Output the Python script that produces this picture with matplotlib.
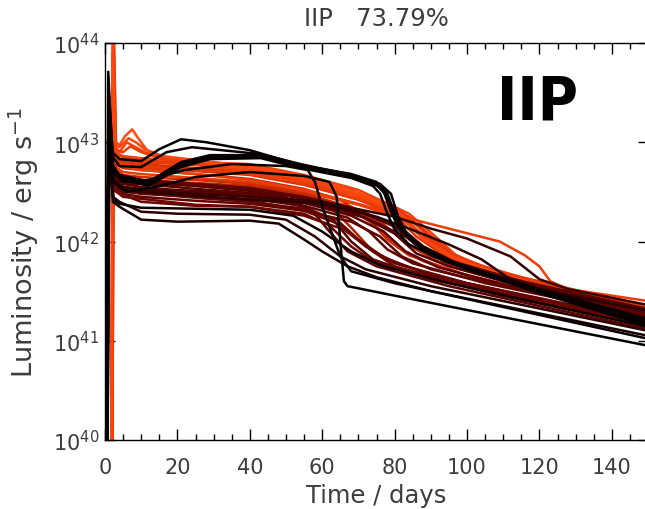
import matplotlib
matplotlib.use("Agg")
import matplotlib.pyplot as plt
from matplotlib.colors import LinearSegmentedColormap
from matplotlib.ticker import MultipleLocator, LogLocator, NullLocator

# Type IIP model light curves: (day, log10 L [erg/s]) key points
ORANGE_BUMP = [
    [(1.8, 39.3), (2.2, 44.3), (2.9, 43.0), (4, 42.97), (5.5, 43.06), (7.5, 43.13), (9, 43.05), (12, 42.9),
     (17, 42.84), (25, 42.81), (40, 42.76), (55, 42.65), (70, 42.49), (80, 42.33), (86, 42.12), (92, 41.92),
     (100, 41.77), (120, 41.56), (150, 41.32)],
    [(1.9, 39.3), (2.3, 44.3), (3.0, 42.95), (4, 42.9), (6, 43.0), (8, 42.96), (12, 42.88), (20, 42.82),
     (40, 42.73), (55, 42.62), (70, 42.46), (82, 42.27), (88, 42.05), (94, 41.88), (105, 41.7), (150, 41.29)],
    [(2.0, 39.3), (2.4, 44.2), (3.1, 42.92), (5, 42.9), (7, 42.96), (10, 42.9), (15, 42.84), (25, 42.78),
     (40, 42.7), (55, 42.59), (70, 42.43), (80, 42.29), (87, 42.08), (95, 41.86), (110, 41.63), (150, 41.27)],
    [(1.7, 39.3), (2.1, 44.1), (2.8, 43.0), (4, 42.95), (6.5, 43.04), (8.5, 43.0), (11, 42.93), (16, 42.86),
     (30, 42.8), (45, 42.73), (60, 42.6), (72, 42.44), (81, 42.28), (88, 42.02), (96, 41.84), (115, 41.6),
     (150, 41.3)],
]
ORANGE_BUMP_SHADE = [1.0, 0.95, 0.9, 0.97]

ORANGE_BAND = [
    [(1.7, 39.3), (2.2, 43.8), (2.9, 42.88), (5, 42.85), (10, 42.82), (25, 42.78), (40, 42.74), (55, 42.64),
     (68, 42.52), (80, 42.34), (88, 42.12), (95, 41.9), (105, 41.72), (150, 41.3)],
    [(1.8, 39.3), (2.3, 43.9), (3.0, 42.84), (5, 42.8), (10, 42.78), (25, 42.74), (40, 42.7), (55, 42.6),
     (68, 42.48), (78, 42.34), (85, 42.14), (92, 41.9), (100, 41.75), (150, 41.28)],
    [(1.9, 39.3), (2.3, 43.7), (3.0, 42.78), (5, 42.74), (10, 42.72), (25, 42.68), (40, 42.63), (55, 42.53),
     (65, 42.42), (72, 42.25), (78, 42.02), (84, 41.86), (100, 41.66), (150, 41.24)],
    [(1.8, 39.3), (2.2, 43.6), (2.9, 42.75), (5, 42.7), (10, 42.68), (25, 42.64), (40, 42.6), (55, 42.5),
     (70, 42.37), (83, 42.22), (90, 41.99), (97, 41.8), (110, 41.62), (150, 41.26)],
    [(2.0, 39.3), (2.4, 43.5), (3.1, 42.7), (5, 42.64), (10, 42.62), (25, 42.59), (40, 42.56), (55, 42.46),
     (62, 42.36), (68, 42.14), (74, 41.9), (82, 41.76), (100, 41.58), (150, 41.2)],
    [(1.7, 39.3), (2.1, 43.9), (2.8, 42.9), (5, 42.86), (10, 42.84), (25, 42.8), (40, 42.78), (55, 42.67),
     (70, 42.52), (84, 42.28), (91, 42.06), (97, 41.86), (108, 41.7), (150, 41.34)],
    [(1.9, 39.3), (2.3, 43.6), (3.0, 42.72), (5, 42.67), (10, 42.65), (25, 42.62), (40, 42.58), (55, 42.49),
     (66, 42.36), (74, 42.18), (81, 41.94), (88, 41.8), (105, 41.6), (150, 41.22)],
    [(1.8, 39.3), (2.2, 43.7), (2.9, 42.8), (5, 42.76), (10, 42.74), (25, 42.71), (40, 42.67), (55, 42.57),
     (70, 42.42), (80, 42.27), (86, 42.05), (92, 41.9), (102, 41.74), (150, 41.32)],
    [(1.9, 39.3), (2.3, 43.8), (3.0, 42.86), (5, 42.82), (10, 42.8), (25, 42.77), (40, 42.72), (55, 42.62),
     (70, 42.48), (82, 42.3), (89, 42.07), (96, 41.86), (108, 41.68), (150, 41.3)],
    [(1.8, 39.3), (2.2, 43.5), (2.9, 42.68), (5, 42.62), (10, 42.6), (25, 42.57), (40, 42.56), (55, 42.47),
     (68, 42.35), (77, 42.17), (84, 41.96), (92, 41.8), (110, 41.6), (150, 41.24)],
    [(2.0, 39.3), (2.4, 43.6), (3.1, 42.82), (5, 42.78), (10, 42.76), (25, 42.72), (40, 42.69), (55, 42.6),
     (72, 42.44), (84, 42.25), (90, 42.02), (98, 41.82), (115, 41.64), (150, 41.33)],
]
ORANGE_BAND_SHADE = [0.85, 0.8, 0.75, 0.88, 0.72, 0.92, 0.78, 0.83, 0.9, 0.74, 0.86]

ORANGE_LATE = [(1.8, 39.3), (2.3, 43.6), (3.0, 42.8), (6, 42.75), (10, 42.72), (25, 42.68), (40, 42.62),
               (55, 42.52), (70, 42.38), (81, 42.26), (95, 42.13), (109, 42.0), (116, 41.86), (120, 41.75),
               (123, 41.6), (128, 41.52), (150, 41.4)]
ORANGE_LATE_SHADE = 0.9

DARK_BAND = [
    [(0.5, 39.3), (1.1, 43.3), (2.3, 42.72), (5, 42.63), (10, 42.61), (25, 42.56), (40, 42.51), (50, 42.44),
     (57, 42.32), (62, 42.1), (67, 41.9), (75, 41.75), (95, 41.55), (120, 41.35), (150, 41.12)],
    [(0.3, 39.3), (1.0, 43.2), (2.2, 42.67), (5, 42.58), (10, 42.55), (25, 42.5), (40, 42.46), (55, 42.35),
     (63, 42.22), (68, 42.0), (74, 41.82), (85, 41.68), (110, 41.45), (150, 41.15)],
    [(0.6, 39.3), (1.2, 43.1), (2.4, 42.62), (5, 42.53), (10, 42.51), (25, 42.46), (40, 42.41), (55, 42.31),
     (65, 42.17), (72, 41.95), (80, 41.78), (100, 41.58), (150, 41.2)],
    [(0.4, 39.3), (1.0, 43.4), (2.2, 42.62), (5, 42.51), (10, 42.48), (25, 42.45), (40, 42.43), (55, 42.36),
     (67, 42.24), (73, 42.1), (78, 41.92), (85, 41.78), (105, 41.58), (150, 41.24)],
    [(0.5, 39.3), (1.1, 43.0), (2.3, 42.57), (5, 42.48), (10, 42.45), (25, 42.41), (40, 42.38), (55, 42.31),
     (68, 42.2), (76, 42.05), (82, 41.85), (90, 41.72), (110, 41.55), (150, 41.25)],
    [(0.3, 39.3), (0.9, 43.2), (2.1, 42.62), (5, 42.55), (10, 42.53), (25, 42.51), (40, 42.48), (55, 42.41),
     (70, 42.27), (80, 42.08), (86, 41.88), (95, 41.75), (115, 41.55), (150, 41.28)],
    [(0.6, 39.3), (1.2, 43.0), (2.4, 42.52), (5, 42.45), (10, 42.43), (25, 42.37), (40, 42.35), (55, 42.26),
     (66, 42.12), (74, 41.9), (80, 41.75), (95, 41.6), (150, 41.18)],
    [(0.4, 39.3), (1.0, 43.3), (2.2, 42.72), (5, 42.64), (10, 42.62), (25, 42.58), (40, 42.54), (55, 42.45),
     (70, 42.32), (82, 42.13), (88, 41.95), (96, 41.8), (115, 41.6), (150, 41.3)],
    [(0.5, 39.3), (1.1, 43.1), (2.3, 42.64), (5, 42.58), (10, 42.58), (25, 42.53), (40, 42.49), (55, 42.39),
     (72, 42.24), (84, 42.03), (90, 41.86), (100, 41.72), (150, 41.32)],
    [(0.4, 39.3), (1.0, 43.0), (2.2, 42.57), (5, 42.5), (10, 42.49), (25, 42.44), (40, 42.4), (55, 42.33),
     (64, 42.22), (70, 42.02), (77, 41.84), (90, 41.66), (120, 41.42), (150, 41.17)],
    [(0.5, 39.3), (1.1, 43.2), (2.3, 42.6), (5, 42.53), (10, 42.5), (25, 42.48), (40, 42.46), (55, 42.39),
     (68, 42.26), (77, 42.1), (83, 41.9), (92, 41.74), (115, 41.52), (150, 41.26)],
    [(0.3, 39.3), (0.9, 43.1), (2.1, 42.54), (5, 42.47), (10, 42.4), (25, 42.36), (40, 42.35), (55, 42.28),
     (62, 42.16), (68, 41.95), (74, 41.8), (90, 41.62), (150, 41.16)],
    [(0.6, 39.3), (1.2, 43.3), (2.4, 42.66), (5, 42.6), (10, 42.59), (25, 42.56), (40, 42.52), (55, 42.43),
     (71, 42.29), (80, 42.15), (86, 41.96), (94, 41.8), (115, 41.58), (150, 41.28)],
    [(0.3, 39.3), (1.0, 43.2), (2.2, 42.6), (5, 42.52), (10, 42.5), (25, 42.46), (40, 42.42), (60, 42.38),
     (75, 42.25), (84, 42.13), (95, 41.97), (104, 41.82), (112, 41.62), (120, 41.52), (150, 41.3)],
    [(0.4, 39.3), (1.1, 43.1), (2.3, 42.62), (5, 42.55), (10, 42.52), (25, 42.48), (40, 42.45), (60, 42.4),
     (80, 42.25), (90, 42.13), (100, 42.03), (112, 41.85), (120, 41.62), (128, 41.52), (150, 41.36)],
]
DARK_BAND_SHADE = [0.45, 0.43, 0.48, 0.45, 0.47, 0.42, 0.5, 0.46, 0.44, 0.48, 0.45, 0.5, 0.43, 0.22, 0.28]

LOW_PLATEAU = [
    [(0.4, 39.3), (1.0, 43.0), (2.2, 42.4), (4, 42.35), (10, 42.22), (20, 42.2), (40, 42.21), (48, 42.18),
     (55, 42.02), (60, 41.9), (67, 41.75), (75, 41.64), (90, 41.5), (110, 41.35), (150, 41.05)],
    [(0.4, 39.3), (1.0, 43.0), (2.2, 42.45), (4, 42.4), (10, 42.3), (20, 42.28), (40, 42.27), (50, 42.22),
     (58, 42.05), (65, 41.85), (72, 41.72), (90, 41.55), (150, 41.1)],
    [(0.5, 39.3), (1.1, 42.9), (2.3, 42.42), (4, 42.38), (10, 42.34), (25, 42.33), (40, 42.32), (52, 42.26),
     (60, 42.1), (68, 41.9), (76, 41.76), (95, 41.58), (150, 41.14)],
]
LOW_PLATEAU_SHADE = [0.12, 0.2, 0.08]

BLACK_HIGH = [
    [(0.2, 39.3), (0.9, 43.71), (2.0, 42.9), (4, 42.83), (10, 42.81), (15, 42.93), (21, 43.03), (28, 43.0),
     (40, 42.92), (54, 42.77), (68, 42.68), (75, 42.6), (78, 42.48), (80, 42.28), (83, 42.08), (88, 41.92),
     (100, 41.72), (120, 41.5), (150, 41.2)],
    [(0.4, 39.3), (1.1, 43.47), (2.2, 42.85), (4, 42.76), (10, 42.75), (17, 42.9), (24, 42.95), (35, 42.91),
     (43, 42.88), (54, 42.78), (68, 42.67), (75, 42.58), (78, 42.45), (81, 42.22), (84, 42.05), (90, 41.88),
     (100, 41.74), (120, 41.52), (150, 41.22)],
    [(0.3, 39.3), (1.0, 43.3), (2.2, 42.75), (4, 42.66), (8, 42.63), (12, 42.58), (21, 42.78), (29, 42.86),
     (43, 42.86), (54, 42.76), (68, 42.66), (75, 42.57), (77, 42.5), (79, 42.3), (81, 42.15), (85, 42.0),
     (95, 41.8), (120, 41.5), (150, 41.18)],
    [(0.3, 39.3), (1.0, 43.2), (2.2, 42.73), (4, 42.64), (8, 42.61), (12, 42.57), (21, 42.76), (29, 42.84),
     (43, 42.85), (54, 42.75), (68, 42.65), (76, 42.55), (78, 42.47), (80, 42.27), (82, 42.12), (86, 41.98),
     (96, 41.8), (120, 41.49), (150, 41.16)],
    [(0.3, 39.3), (1.0, 43.25), (2.2, 42.76), (4, 42.67), (8, 42.64), (12, 42.6), (21, 42.8), (29, 42.87),
     (43, 42.87), (54, 42.77), (68, 42.67), (76, 42.58), (79, 42.48), (81, 42.25), (83, 42.1), (87, 41.96),
     (97, 41.78), (120, 41.51), (150, 41.19)],
    [(0.3, 39.3), (1.0, 43.1), (2.2, 42.72), (4, 42.63), (8, 42.6), (12, 42.56), (21, 42.75), (29, 42.83),
     (43, 42.84), (54, 42.74), (68, 42.64), (74, 42.56), (76, 42.48), (78, 42.28), (80, 42.12), (84, 41.97),
     (94, 41.8), (120, 41.48), (150, 41.15)],
    [(0.5, 39.3), (1.1, 43.2), (2.3, 42.7), (5, 42.6), (12, 42.62), (22, 42.72), (35, 42.78), (50, 42.76),
     (56, 42.72), (58, 42.6), (60, 42.35), (62, 42.15), (65, 41.85), (68, 41.7), (80, 41.58), (100, 41.42),
     (150, 41.02)],
    [(0.5, 39.3), (1.2, 43.1), (2.4, 42.6), (6, 42.5), (14, 42.55), (25, 42.65), (40, 42.7), (55, 42.66),
     (62, 42.6), (64, 42.45), (65, 42.0), (66, 41.6), (67, 41.55), (82, 41.44), (100, 41.31), (150, 40.95)],
]
BLACK_HIGH_SHADE = [0.02, 0.05, 0.0, 0.03, 0.06, 0.01, 0.04, 0.02]

X_TICKS = [0, 20, 40, 60, 80, 100, 120, 140]

heat = LinearSegmentedColormap.from_list(
    "heat", ["#000000", "#2a0000", "#4c0000", "#8a0c00", "#d83000", "#ff4a12"])

plt.rcParams["font.family"] = "DejaVu Sans"
fig = plt.figure(figsize=(6.45, 5.10), dpi=100)
ax = fig.add_axes([105 / 645, 1 - 441 / 510, 543 / 645, 397 / 510])


def draw(curve, shade):
    t = [p[0] for p in curve]
    lum = [10 ** p[1] for p in curve]
    ax.plot(t, lum, color=heat(shade), lw=1.8, solid_joinstyle="round")


for c, s in zip(ORANGE_BAND, ORANGE_BAND_SHADE):
    draw(c, s)
draw(ORANGE_LATE, ORANGE_LATE_SHADE)
for c, s in zip(ORANGE_BUMP, ORANGE_BUMP_SHADE):
    draw(c, s)
for c, s in zip(DARK_BAND, DARK_BAND_SHADE):
    draw(c, s)
for c, s in zip(LOW_PLATEAU, LOW_PLATEAU_SHADE):
    draw(c, s)
for c, s in zip(BLACK_HIGH, BLACK_HIGH_SHADE):
    draw(c, s)

ax.set_yscale("log")
ax.set_xlim(0, 150)
ax.set_ylim(1e40, 1e44)
ax.set_xticks(X_TICKS)
ax.xaxis.set_minor_locator(MultipleLocator(5))
ax.yaxis.set_major_locator(LogLocator(base=10, numticks=10))
ax.yaxis.set_minor_locator(NullLocator())

txt = "#3c3c3c"
ax.tick_params(which="both", direction="in", top=True, right=True, colors="black",
               labelcolor=txt, labelsize=15)
ax.tick_params(axis="x", which="major", length=8, width=1.0, pad=12)
ax.tick_params(axis="x", which="minor", length=4.5, width=1.0)
ax.tick_params(axis="y", which="major", length=7, width=1.0, pad=4)
for sp in ax.spines.values():
    sp.set_linewidth(1.0)

ax.set_xlabel("Time / days", fontsize=17.5, color=txt)
ax.xaxis.set_label_coords(0.5, -0.108)
ax.set_ylabel("Luminosity / erg s$^{-1}$", fontsize=19.5, color=txt)
ax.yaxis.set_label_coords(-0.118, 0.5)
ax.set_title("IIP   73.79%", fontsize=17.5, color=txt, y=1.025)

fig.text(497 / 645, 1 - 120 / 510, "IIP", fontsize=44, fontweight="bold",
         fontstretch="condensed", color="black", va="baseline", ha="left")

fig.savefig("out.png", dpi=100)
